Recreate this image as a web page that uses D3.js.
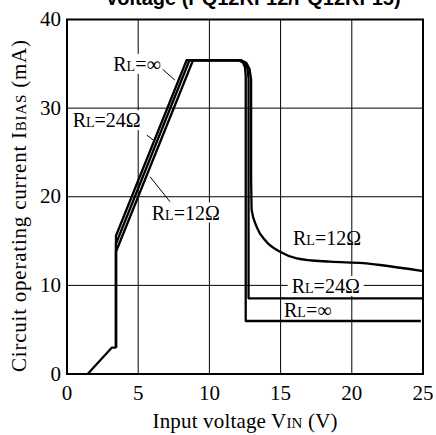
<!DOCTYPE html>
<meta charset="utf-8">
<script src="https://d3js.org/d3.v7.min.js"></script>
<style>
  body { margin: 0; background: #fff; }
  text { font-family: "Liberation Serif", "Times New Roman", serif; fill: #000; }
</style>
<div id="chart"></div>
<script>

// axis ticks
var voltTicks = [0, 5, 10, 15, 20, 25];
var currTicks = [0, 10, 20, 30, 40];

// [input voltage V, bias current mA]
var foot = [[1.45, 0], [3.14, 2.97], [3.44, 2.97]];
var rlInf = [[3.44, 2.97], [3.44, 15.6], [8.4, 35.4], [12.05, 35.4], [12.35, 35.15], [12.5, 34.6], [12.55, 33.6], [12.55, 5.98], [24.85, 5.98]];
var rl24 = [[3.44, 2.97], [3.44, 14.7], [8.6, 35.4], [12.15, 35.4], [12.48, 35.1], [12.67, 34.5], [12.75, 33.4], [12.75, 8.54], [25, 8.54]];
var rl12 = [[3.44, 2.97], [3.44, 13.8], [8.85, 35.4], [12.25, 35.4], [12.6, 35.1], [12.82, 34.4], [12.93, 33.2], [12.93, 22]];
var rl12Tail = [[12.93, 22], [12.97, 18.5], [13.32, 16.6], [14.02, 14.9], [14.96, 13.8], [16.13, 13.06], [18.47, 12.67], [20.8, 12.5], [21.98, 12.3], [25, 11.6]];

// curve labels, anchored in data units
var notes = [
  {sub: "\u221e", v: 3.25, i: 34.2, box: true, lead: [[6.72, 34.37], [7.58, 33.16]]},
  {sub: "24\u03a9", v: 0.4, i: 27.86, box: true, lead: [[5.6, 26.96], [6.06, 26.4]]},
  {sub: "12\u03a9", v: 5.95, i: 17.43, box: true, lead: [[5.83, 22.26], [7.23, 19.44]]},
  {sub: "12\u03a9", v: 15.87, i: 14.55, box: false},
  {sub: "24\u03a9", v: 15.78, i: 9.14, box: true},
  {sub: "\u221e", v: 15.24, i: 6.43, box: false}
];

var W = 436, H = 435;
var pl = 67, pr = 423, pt = 19.5, pb = 374;

var svg = d3.select("#chart").append("svg")
    .attr("width", W)
    .attr("height", H);

var x = d3.scaleLinear().domain([0, 25]).range([pl, pr]);
var y = d3.scaleLinear().domain([0, 40]).range([pb, pt]);

// title (only its last line shows at the top edge)
svg.append("text")
    .attr("x", 253).attr("y", 5)
    .attr("text-anchor", "middle")
    .style("font-family", "'Liberation Sans', Arial, sans-serif")
    .style("font-weight", "bold")
    .style("font-size", "20px")
    .text("Voltage (PQ12RF12/PQ12RF15)");

// grid
var grid = svg.append("g").attr("stroke", "#000").attr("stroke-width", 1);
grid.selectAll("line.v")
  .data(voltTicks.slice(1, -1))
  .enter().append("line")
    .attr("x1", d => x(d)).attr("x2", d => x(d))
    .attr("y1", pt).attr("y2", pb);
grid.selectAll("line.h")
  .data(currTicks.slice(1, -1))
  .enter().append("line")
    .attr("x1", pl).attr("x2", pr)
    .attr("y1", d => y(d)).attr("y2", d => y(d));

// tick labels
svg.append("g").selectAll("text")
  .data(voltTicks)
  .enter().append("text")
    .attr("x", d => x(d)).attr("y", 400)
    .attr("text-anchor", "middle")
    .style("font-size", "21px")
    .text(d => d);
svg.append("g").selectAll("text")
  .data(currTicks)
  .enter().append("text")
    .attr("x", 61).attr("y", d => y(d) + 6.5)
    .attr("text-anchor", "end")
    .style("font-size", "21px")
    .text(d => d);

// axis titles
var xt = svg.append("text")
    .attr("x", 245).attr("y", 428)
    .attr("text-anchor", "middle")
    .attr("textLength", 185)
    .style("font-size", "21px");
xt.append("tspan").text("Input voltage V");
xt.append("tspan").style("font-size", "15px").text("IN");
xt.append("tspan").text(" (V)");

var yt = svg.append("text")
    .attr("transform", "translate(26,206) rotate(-90)")
    .attr("text-anchor", "middle")
    .attr("textLength", 332)
    .style("font-size", "21px");
yt.append("tspan").text("Circuit operating current I");
yt.append("tspan").style("font-size", "15px").text("BIAS");
yt.append("tspan").text(" (mA)");

// curve labels with white backing where they cut the grid
var labelG = svg.append("g");
var lineG = svg.append("g");
notes.forEach(function(n) {
  var t = labelG.append("text")
      .attr("x", x(n.v)).attr("y", y(n.i))
      .style("font-size", "20px");
  t.append("tspan").text("R");
  t.append("tspan").style("font-size", "14px").text("L");
  t.append("tspan").text("=" + n.sub);
  if (n.box) {
    var b = t.node().getBBox();
    labelG.insert("rect", "text")
        .attr("x", b.x - 4).attr("y", b.y + 1)
        .attr("width", b.width + 8).attr("height", b.height - 2)
        .attr("fill", "#fff");
  }
  if (n.lead) {
    lineG.append("line")
        .attr("x1", x(n.lead[0][0])).attr("y1", y(n.lead[0][1]))
        .attr("x2", x(n.lead[1][0])).attr("y2", y(n.lead[1][1]))
        .attr("stroke", "#000").attr("stroke-width", 1);
  }
});

// curves
var line = d3.line().x(d => x(d[0])).y(d => y(d[1]));
var smooth = d3.line().x(d => x(d[0])).y(d => y(d[1])).curve(d3.curveMonotoneX);
var curves = svg.append("g")
    .attr("fill", "none")
    .attr("stroke", "#000")
    .attr("stroke-width", 2.3)
    .attr("stroke-linejoin", "round");
curves.append("path").attr("d", line(foot));
[rlInf, rl24, rl12].forEach(function(s) {
  curves.append("path").attr("d", line(s));
});
curves.append("path").attr("d", smooth(rl12Tail));

// frame
svg.append("rect")
    .attr("x", pl).attr("y", pt)
    .attr("width", pr - pl).attr("height", pb - pt)
    .attr("fill", "none")
    .attr("stroke", "#000")
    .attr("stroke-width", 2);

</script>
